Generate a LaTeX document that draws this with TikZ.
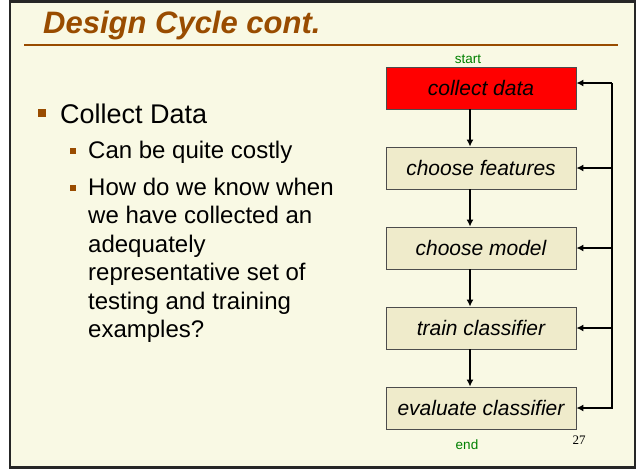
\documentclass[tikz,border=0pt]{standalone}
\usepackage{fontspec}
\setmainfont{Liberation Sans}
\newfontfamily\numfont{Liberation Serif}
\usetikzlibrary{arrows.meta}
\definecolor{slidebg}{RGB}{249,249,228}
\definecolor{boxfill}{RGB}{239,235,203}
\definecolor{brownish}{RGB}{153,76,0}
\definecolor{darkgreen}{RGB}{0,128,0}
\begin{document}
\begin{tikzpicture}[x=1pt, y=-1pt,
        stage/.style={draw=black!70, line width=0.8pt, fill=boxfill, minimum width=190pt,
            minimum height=42pt, inner sep=0pt, font=\fontsize{21}{25}\selectfont\itshape},
        flow/.style={line width=1.6pt, -{Latex[length=7pt,width=7pt]}},
        sq/.style={fill=brownish, inner sep=0pt, minimum size=#1},
        txt/.style={anchor=base west, inner sep=0pt, font=\fontsize{#1}{#1}\selectfont},
        tag/.style={anchor=base, inner sep=0pt, text=darkgreen, font=\fontsize{13.5}{16}\selectfont}]
    \useasboundingbox (0,0) rectangle (638,469);
    \fill[white] (0,0) rectangle (638,469);
    \draw[line width=2.2pt, draw=black!85, fill=slidebg] (10,1.5) rectangle (635,467.5);

    % heading
    \node[anchor=base west, inner sep=0pt, text=brownish,
        font=\fontsize{31}{31}\selectfont\bfseries\itshape] (title) at (43,33) {Design Cycle cont.};
    \draw[brownish, line width=2pt] (24,45) -- (618,45);

    % bullet list
    \node[sq=8pt] (b1) at (42,113) {};
    \node[txt=27] (item) at (60,123) {Collect Data};
    \node[sq=6.5pt] (b2) at (73,151) {};
    \node[txt=24] (cost) at (88,158) {Can be quite costly};
    \node[sq=6.5pt] (b3) at (73,188) {};
    \foreach \t [count=\i] in {How do we know when, we have collected an, adequately,
            representative set of, testing and training, examples?}
        \node[txt=24] (q\i) at (88,{195+28.5*(\i-1)}) {\t};

    % flow chart
    \node[stage, fill=red] (collect) at (481,88) {collect data};
    \node[stage] (features) at (481,168) {choose features};
    \node[stage] (model) at (481,248) {choose model};
    \node[stage] (train) at (481,328) {train classifier};
    \node[stage] (evaluate) at (481,408) {evaluate classifier};
    \node[tag] (start) at (468,63) {start};
    \node[tag] (end) at (467,449) {end};

    \draw[flow] ([xshift=-11pt]collect.south) -- ([xshift=-11pt]features.north);
    \draw[flow] ([xshift=-11pt]features.south) -- ([xshift=-11pt]model.north);
    \draw[flow] ([xshift=-11pt]model.south) -- ([xshift=-11pt]train.north);
    \draw[flow] ([xshift=-11pt]train.south) -- ([xshift=-11pt]evaluate.north);

    \coordinate (back) at (612,83);
    \draw[flow] (back) -- (back -| collect.east);
    \draw[flow] (back) -- (back |- evaluate.east) -- (evaluate.east);
    \foreach \n in {features,model,train}
        \draw[flow] (back |- \n.east) -- (\n.east);

    \node[anchor=base, inner sep=0pt, font=\numfont\fontsize{13}{15}\selectfont] (page) at (579,444) {27};
\end{tikzpicture}
\end{document}
